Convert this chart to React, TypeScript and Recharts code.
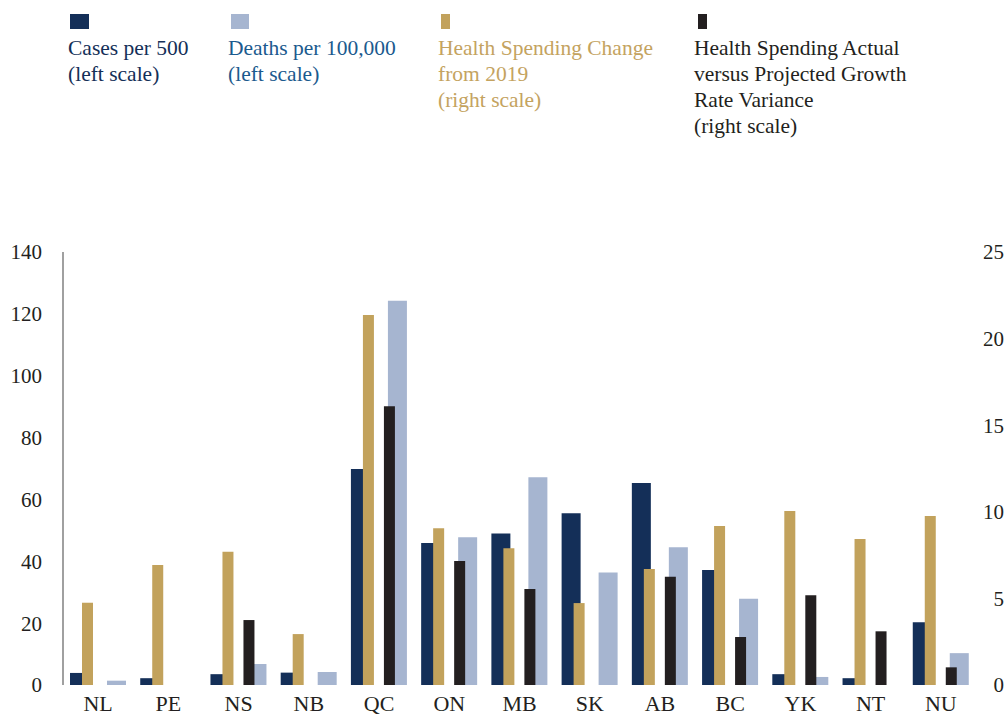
import { Bar, BarChart, XAxis, YAxis } from 'recharts';

const categories = ['NL', 'PE', 'NS', 'NB', 'QC', 'ON', 'MB', 'SK', 'AB', 'BC', 'YK', 'NT', 'NU'];
// left scale
const casesPer500 = [3.9, 2.2, 3.5, 4.0, 69.8, 45.9, 49.0, 55.5, 65.3, 37.2, 3.5, 2.2, 20.3];
const deathsPer100k = [1.4, 0, 6.8, 4.2, 124.2, 47.8, 67.2, 36.4, 44.5, 27.9, 2.6, 0, 10.3];
// right scale
const spendingChange = [4.75, 6.93, 7.7, 2.94, 21.36, 9.05, 7.89, 4.73, 6.7, 9.18, 10.05, 8.43, 9.76];
const spendingVariance = [0, 0, 3.75, 0, 16.1, 7.16, 5.54, 0, 6.25, 2.77, 5.18, 3.1, 1.02];

const leftTicks = [0, 20, 40, 60, 80, 100, 120, 140];
const rightTicks = [0, 5, 10, 15, 20, 25];

const data = categories.map((name, i) => ({
  name,
  cases: casesPer500[i],
  deaths: deathsPer100k[i],
  change: spendingChange[i],
  variance: spendingVariance[i],
}));

const NAVY = '#142f58';
const LIGHT = '#a6b5d0';
const GOLD = '#c2a25c';
const BLACK = '#231f20';
const FONT = 'Liberation Serif, Tinos, Times New Roman, Noto Serif, DejaVu Serif, serif';

const legendItems = [
  { color: NAVY, text: NAVY, x: 68, sq: 70, w: 19, lines: ['Cases per 500', '(left scale)'] },
  { color: LIGHT, text: '#1b5a8e', x: 228, sq: 231, w: 18, lines: ['Deaths per 100,000', '(left scale)'] },
  { color: GOLD, text: '#c4a35f', x: 438, sq: 441, w: 9, lines: ['Health Spending Change', 'from 2019', '(right scale)'] },
  {
    color: BLACK,
    text: BLACK,
    x: 694,
    sq: 698,
    w: 9,
    lines: ['Health Spending Actual', 'versus Projected Growth', 'Rate Variance', '(right scale)'],
  },
];

function RightTick(props: any) {
  const { x, y, payload } = props;
  return (
    <text x={x + 28} y={y} dy="0.355em" textAnchor="end" fill={BLACK} fontSize={21} style={{ fontFamily: FONT }}>
      {payload.value}
    </text>
  );
}

export default function App() {
  return (
    <div
      style={{
        position: 'absolute',
        left: 0,
        top: 0,
        width: 1006,
        height: 715,
        background: '#fff',
        fontFamily: FONT,
      }}
    >
      <svg width={1006} height={250} style={{ position: 'absolute', left: 0, top: 0, fontFamily: FONT }}>
        {legendItems.map((item) => (
          <g key={item.lines[0]}>
            <rect x={item.sq} y={14} width={item.w} height={15} fill={item.color} />
            {item.lines.map((line, j) => (
              <text key={line} x={item.x} y={55 + j * 26} fill={item.text} fontSize={21.5} style={{ fontFamily: FONT }}>
                {line}
              </text>
            ))}
          </g>
        ))}
      </svg>
      <BarChart
        width={1006}
        height={715}
        data={data}
        barGap={0}
        margin={{ top: 252, right: 0, bottom: 0, left: 0 }}
        style={{ fontFamily: FONT }}
      >
        <XAxis
          xAxisId="a"
          dataKey="name"
          axisLine={false}
          tickLine={false}
          tickSize={0}
          tickMargin={10}
          height={30}
          interval={0}
          tick={{ fill: BLACK, fontSize: 22, style: { fontFamily: FONT } }}
        />
        <XAxis xAxisId="b" dataKey="name" hide />
        <YAxis
          yAxisId="left"
          domain={[0, 140]}
          ticks={leftTicks}
          width={63}
          axisLine={{ stroke: '#808080', strokeWidth: 1.5 }}
          tickLine={false}
          tickSize={0}
          tickMargin={21}
          tick={{ fill: BLACK, fontSize: 21, style: { fontFamily: FONT } }}
        />
        <YAxis
          yAxisId="right"
          orientation="right"
          domain={[0, 25]}
          ticks={rightTicks}
          width={30}
          axisLine={false}
          tickLine={false}
          tickSize={0}
          tickMargin={0}
          tick={<RightTick />}
        />
        {/* left-scale group: wide bars with an empty slot between them */}
        <Bar xAxisId="a" yAxisId="left" dataKey="cases" fill={NAVY} barSize={19} isAnimationActive={false} />
        <Bar xAxisId="a" yAxisId="left" dataKey="gapA" fill="none" barSize={18} isAnimationActive={false} />
        <Bar xAxisId="a" yAxisId="left" dataKey="deaths" fill={LIGHT} barSize={19} isAnimationActive={false} />
        {/* right-scale group: narrow bars drawn on top */}
        <Bar xAxisId="b" yAxisId="right" dataKey="change" fill={GOLD} barSize={11} isAnimationActive={false} />
        <Bar xAxisId="b" yAxisId="right" dataKey="gapB" fill="none" barSize={10} isAnimationActive={false} />
        <Bar xAxisId="b" yAxisId="right" dataKey="variance" fill={BLACK} barSize={11} isAnimationActive={false} />
      </BarChart>
    </div>
  );
}
